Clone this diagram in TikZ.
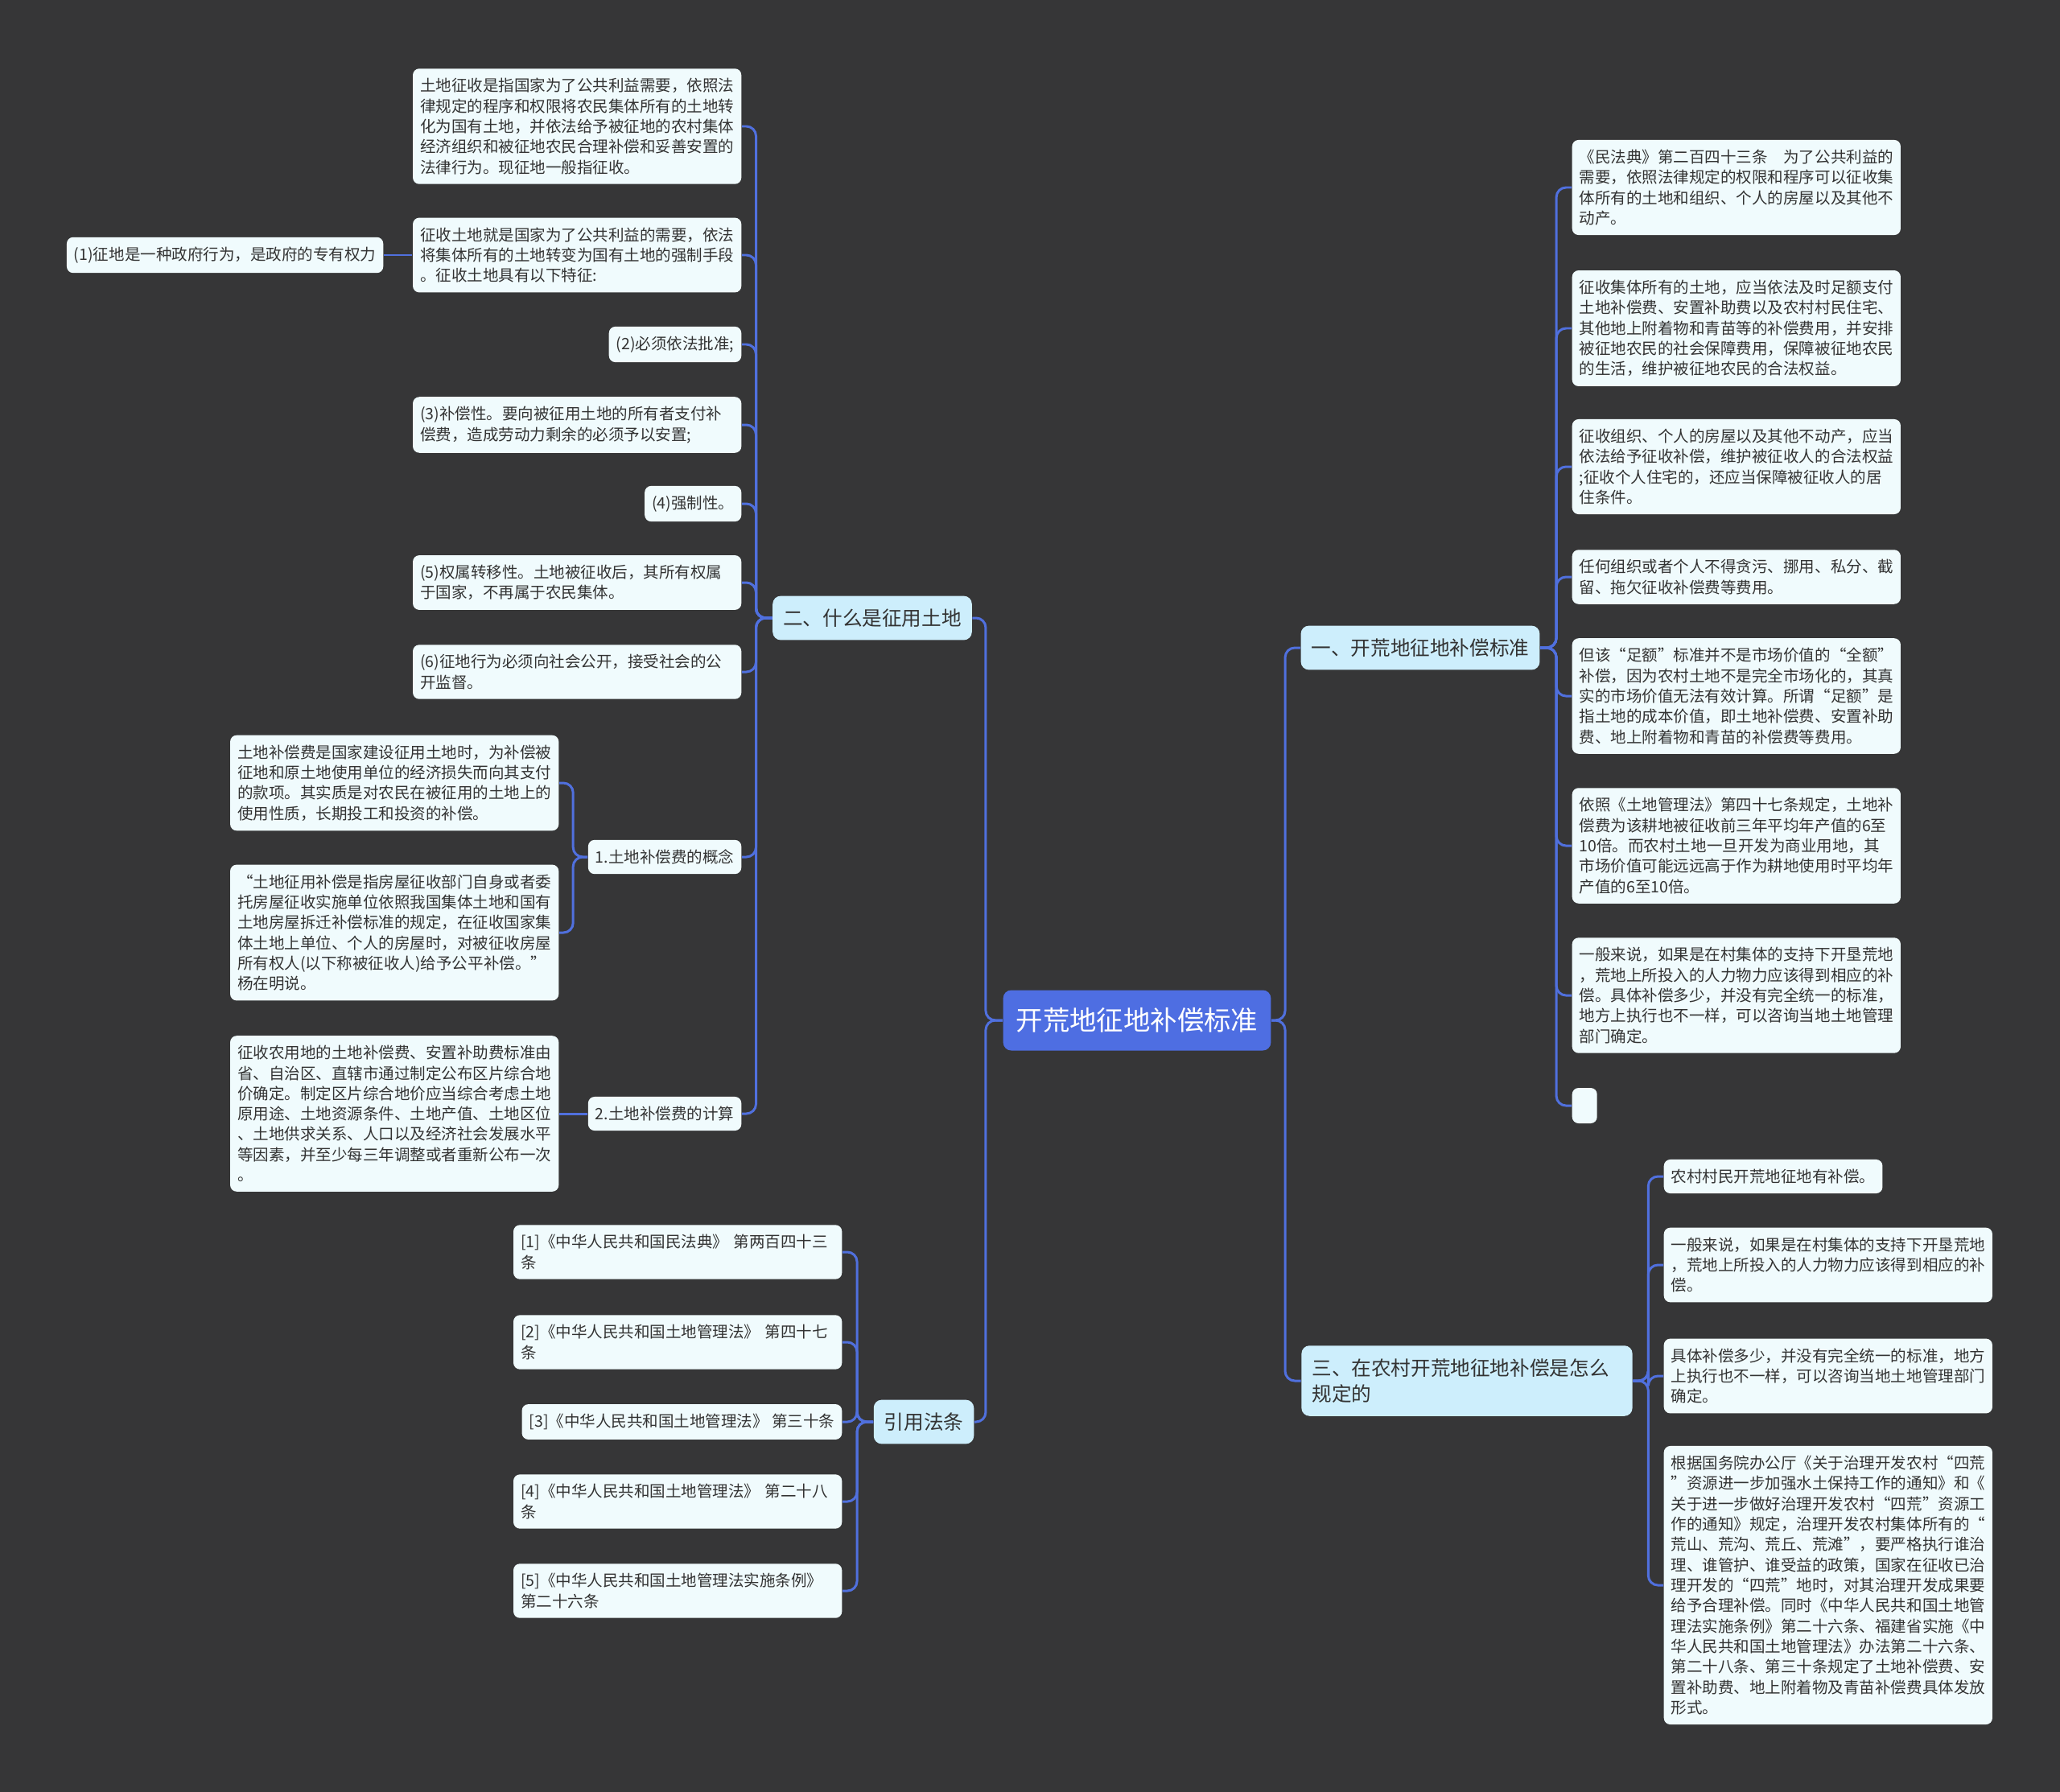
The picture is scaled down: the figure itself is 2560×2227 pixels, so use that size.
\documentclass[tikz,border=0pt]{standalone}
\usepackage{fontspec}
\setmainfont{Noto Sans CJK SC}
\usepackage{tikz}
\tikzset{>=latex}
\usepackage{xcolor}
\definecolor{bgcol}{RGB}{54,54,55}
\definecolor{rootcol}{RGB}{78,110,226}
\definecolor{linkcol}{RGB}{80,112,222}
\definecolor{branchcol}{RGB}{205,238,252}
\definecolor{leafcol}{RGB}{240,251,253}
\colorlet{txtcol}{black!80}
\tikzset{
    link/.style={linkcol, line width=0.85pt, rounded corners=0.12cm},
    root/.style={fill=rootcol, text=white, rounded corners=0.1cm, inner xsep=0.16cm, inner ysep=0.22cm, font=\fontsize{9.5pt}{11pt}\selectfont},
    branch/.style={fill=branchcol, text=txtcol, rounded corners=0.1cm, inner xsep=0.13cm, inner ysep=0.16cm, align=left, font=\fontsize{7pt}{9.3pt}\selectfont},
    leaf/.style={fill=leafcol, text=txtcol, rounded corners=0.08cm, inner xsep=0.09cm, inner ysep=0.12cm, align=left, font=\fontsize{5.55pt}{7.2pt}\selectfont},
    leafwide/.style={leaf, text width=3.9cm},
}

\begin{document}
\begin{tikzpicture}[x=0.01cm, y=-0.01cm]
    \fill[bgcol] (0,0) rectangle (2560,2227);
    \useasboundingbox (0,0) rectangle (2560,2227);

    \begin{scope}
        \node[root] (root) at (1413,1268) {开荒地征地补偿标准};

        \node[branch] (q2) at (1084,768) {二、什么是征用土地};
        \node[branch] (cite) at (1148,1767) {引用法条};
        \node[branch] (q1) at (1765,805) {一、开荒地征地补偿标准};
        \node[branch, text width=3.85cm] (q3) at (1823,1716) {三、在农村开荒地征地补偿是怎么\\规定的};

        % 二
        \node[leafwide, anchor=east] (a1) at (922,157) {土地征收是指国家为了公共利益需要，依照法\\律规定的程序和权限将农民集体所有的土地转\\化为国有土地，并依法给予被征地的农村集体\\经济组织和被征地农民合理补偿和妥善安置的\\法律行为。现征地一般指征收。};
        \node[leafwide, anchor=east] (a2) at (922,317) {征收土地就是国家为了公共利益的需要，依法\\将集体所有的土地转变为国有土地的强制手段\\。征收土地具有以下特征:};
        \node[leaf, anchor=east] (a2x) at (477,317) {(1)征地是一种政府行为，是政府的专有权力};
        \node[leaf, anchor=east] (a3) at (922,428) {(2)必须依法批准;};
        \node[leafwide, anchor=east] (a4) at (922,528) {(3)补偿性。要向被征用土地的所有者支付补\\偿费，造成劳动力剩余的必须予以安置;};
        \node[leaf, anchor=east] (a5) at (922,626) {(4)强制性。};
        \node[leafwide, anchor=east] (a6) at (922,724) {(5)权属转移性。土地被征收后，其所有权属\\于国家，不再属于农民集体。};
        \node[leafwide, anchor=east] (a7) at (922,835) {(6)征地行为必须向社会公开，接受社会的公\\开监督。};
        \node[leaf, anchor=east] (a8) at (922,1065) {1.土地补偿费的概念};
        \node[leafwide, anchor=east] (a8x) at (695,973) {土地补偿费是国家建设征用土地时，为补偿被\\征地和原土地使用单位的经济损失而向其支付\\的款项。其实质是对农民在被征用的土地上的\\使用性质，长期投工和投资的补偿。};
        \node[leafwide, anchor=east] (a8y) at (695,1159) {“土地征用补偿是指房屋征收部门自身或者委\\托房屋征收实施单位依照我国集体土地和国有\\土地房屋拆迁补偿标准的规定，在征收国家集\\体土地上单位、个人的房屋时，对被征收房屋\\所有权人(以下称被征收人)给予公平补偿。”\\杨在明说。};
        \node[leaf, anchor=east] (a9) at (922,1384) {2.土地补偿费的计算};
        \node[leafwide, anchor=east] (a9x) at (695,1384) {征收农用地的土地补偿费、安置补助费标准由\\省、自治区、直辖市通过制定公布区片综合地\\价确定。制定区片综合地价应当综合考虑土地\\原用途、土地资源条件、土地产值、土地区位\\、土地供求关系、人口以及经济社会发展水平\\等因素，并至少每三年调整或者重新公布一次\\。};

        % 引用法条
        \node[leafwide, anchor=east] (c1) at (1047,1556) {[1]《中华人民共和国民法典》 第两百四十三\\条};
        \node[leafwide, anchor=east] (c2) at (1047,1668) {[2]《中华人民共和国土地管理法》 第四十七\\条};
        \node[leaf, anchor=east] (c3) at (1047,1767) {[3]《中华人民共和国土地管理法》 第三十条};
        \node[leafwide, anchor=east] (c4) at (1047,1866) {[4]《中华人民共和国土地管理法》 第二十八\\条};
        \node[leafwide, anchor=east] (c5) at (1047,1977) {[5]《中华人民共和国土地管理法实施条例》\\第二十六条};

        % 一
        \node[leafwide, anchor=west] (r1) at (1953,233) {《民法典》第二百四十三条　为了公共利益的\\需要，依照法律规定的权限和程序可以征收集\\体所有的土地和组织、个人的房屋以及其他不\\动产。};
        \node[leafwide, anchor=west] (r2) at (1953,408) {征收集体所有的土地，应当依法及时足额支付\\土地补偿费、安置补助费以及农村村民住宅、\\其他地上附着物和青苗等的补偿费用，并安排\\被征地农民的社会保障费用，保障被征地农民\\的生活，维护被征地农民的合法权益。};
        \node[leafwide, anchor=west] (r3) at (1953,580) {征收组织、个人的房屋以及其他不动产，应当\\依法给予征收补偿，维护被征收人的合法权益\\;征收个人住宅的，还应当保障被征收人的居\\住条件。};
        \node[leafwide, anchor=west] (r4) at (1953,717) {任何组织或者个人不得贪污、挪用、私分、截\\留、拖欠征收补偿费等费用。};
        \node[leafwide, anchor=west] (r5) at (1953,865) {但该“足额”标准并不是市场价值的“全额”\\补偿，因为农村土地不是完全市场化的，其真\\实的市场价值无法有效计算。所谓“足额”是\\指土地的成本价值，即土地补偿费、安置补助\\费、地上附着物和青苗的补偿费等费用。};
        \node[leafwide, anchor=west] (r6) at (1953,1051) {依照《土地管理法》第四十七条规定，土地补\\偿费为该耕地被征收前三年平均年产值的6至\\10倍。而农村土地一旦开发为商业用地，其\\市场价值可能远远高于作为耕地使用时平均年\\产值的6至10倍。};
        \node[leafwide, anchor=west] (r7) at (1953,1237) {一般来说，如果是在村集体的支持下开垦荒地\\，荒地上所投入的人力物力应该得到相应的补\\偿。具体补偿多少，并没有完全统一的标准，\\地方上执行也不一样，可以咨询当地土地管理\\部门确定。};
        \node[leaf, anchor=west, inner sep=0pt, minimum width=0.31cm, minimum height=0.44cm] (r8) at (1953,1374) {};

        % 三
        \node[leaf, anchor=west] (t1) at (2067,1462) {农村村民开荒地征地有补偿。};
        \node[leafwide, anchor=west] (t2) at (2067,1572) {一般来说，如果是在村集体的支持下开垦荒地\\，荒地上所投入的人力物力应该得到相应的补\\偿。};
        \node[leafwide, anchor=west] (t3) at (2067,1710) {具体补偿多少，并没有完全统一的标准，地方\\上执行也不一样，可以咨询当地土地管理部门\\确定。};
        \node[leafwide, anchor=west] (t4) at (2067,1970) {根据国务院办公厅《关于治理开发农村“四荒\\”资源进一步加强水土保持工作的通知》和《\\关于进一步做好治理开发农村“四荒”资源工\\作的通知》规定，治理开发农村集体所有的“\\荒山、荒沟、荒丘、荒滩”，要严格执行谁治\\理、谁管护、谁受益的政策，国家在征收已治\\理开发的“四荒”地时，对其治理开发成果要\\给予合理补偿。同时《中华人民共和国土地管\\理法实施条例》第二十六条、福建省实施《中\\华人民共和国土地管理法》办法第二十六条、\\第二十八条、第三十条规定了土地补偿费、安\\置补助费、地上附着物及青苗补偿费具体发放\\形式。};

        \draw[link] (root.west) -- ++(-21,0) |- (q2.east);
        \draw[link] (root.west) -- ++(-21,0) |- (cite.east);
        \draw[link] (root.east) -- ++(17,0) |- (q1.west);
        \draw[link] (root.east) -- ++(17,0) |- (q3.west);

        \foreach \n in {a1,a2,a3,a4,a5,a6,a7,a8,a9}
        {
            \draw[link] (q2.west) -- ++(-20,0) |- (\n.east);
        }
        \draw[link] (a2.west) -- (a2x.east);
        \draw[link] (a8.west) -- ++(-18,0) |- (a8x.east);
        \draw[link] (a8.west) -- ++(-18,0) |- (a8y.east);
        \draw[link] (a9.west) -- (a9x.east);

        \foreach \n in {c1,c2,c3,c4,c5}
        {
            \draw[link] (cite.west) -- ++(-20,0) |- (\n.east);
        }
        \foreach \n in {r1,r2,r3,r4,r5,r6,r7,r8}
        {
            \draw[link] (q1.east) -- ++(20,0) |- (\n.west);
        }
        \foreach \n in {t1,t2,t3,t4}
        {
            \draw[link] (q3.east) -- ++(19,0) |- (\n.west);
        }
    \end{scope}
\end{tikzpicture}
\end{document}
